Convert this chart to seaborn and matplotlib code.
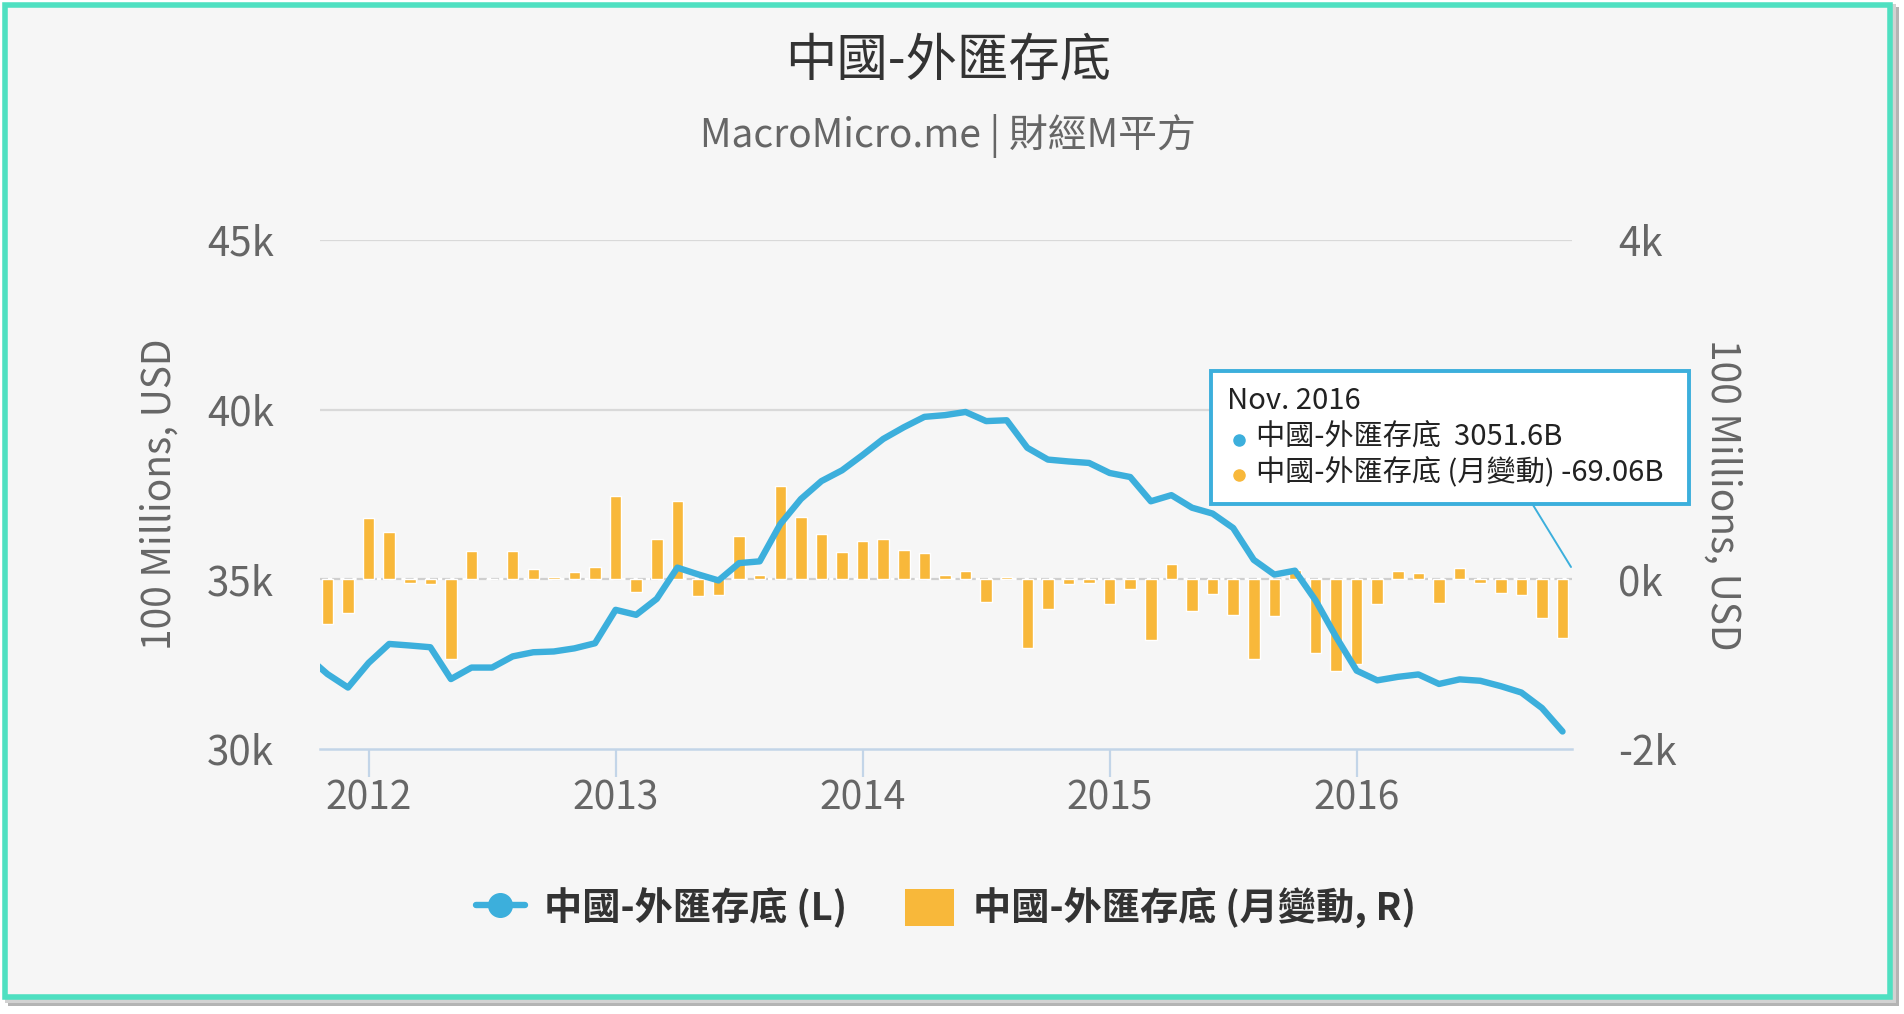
import numpy as np
import pandas as pd
import matplotlib
matplotlib.use("Agg")
import matplotlib.pyplot as plt
import seaborn as sns
from matplotlib.lines import Line2D
from matplotlib.patches import Patch, Rectangle
from matplotlib.font_manager import FontProperties

# ---------------- data ----------------
dates = pd.date_range("2011-10-01", "2016-11-01", freq="MS")
# China FX reserves, 100 millions USD (left axis)
reserves = [
    32738, 32209, 31811,
    32536, 33096, 33050, 32999, 32061, 32400, 32400, 32729, 32851, 32874, 32966, 33116,
    34101, 33954, 34426, 35345, 35148, 34967, 35478, 35530, 36627, 37366, 37895, 38213,
    38664, 39137, 39481, 39788, 39839, 39932, 39663, 39688, 38877, 38529, 38474, 38430,
    38134, 38015, 37300, 37481, 37111, 36938, 36513, 35574, 35141, 35255, 34383, 33304,
    32309, 32023, 32126, 32197, 31917, 32052, 32011, 31852, 31664, 31207, 30516,
]
# monthly change, 100 millions USD (right axis)
changes = [
    721, -529, -398,
    725, 560, -46, -51, -938, 339, 0, 329, 122, 23, 92, 150,
    985, -147, 472, 919, -197, -181, 511, 52, 1097, 739, 529, 318,
    451, 473, 344, 307, 51, 93, -269, 25, -811, -348, -55, -44,
    -296, -119, -715, 181, -370, -173, -425, -939, -433, 114, -872, -1079,
    -995, -286, 103, 71, -280, 135, -41, -159, -188, -457, -691,
]
year_ticks = [2012, 2013, 2014, 2015, 2016]
left_ticks = [30000, 35000, 40000, 45000]
left_labels = ["30k", "35k", "40k", "45k"]
right_ticks = [-2000, 0, 2000, 4000]
right_labels = ["-2k", "0k", "2k", "4k"]

title = "中國-外匯存底"
subtitle = "MacroMicro.me | 財經M平方"
axis_label = "100 Millions, USD"
series_line = "中國-外匯存底 (L)"
series_bar = "中國-外匯存底 (月變動, R)"
tip_date = "Nov. 2016"
tip_line1 = "中國-外匯存底  3051.6B"
tip_line2 = "中國-外匯存底 (月變動) -69.06B"

# months since Jan 2012 as numeric x position
month_idx = [(d.year - 2012) * 12 + (d.month - 1) for d in dates]
df = pd.DataFrame({"m": month_idx, "reserves": reserves, "change": changes})

# ---------------- style ----------------
sns.set_theme(style="white")
plt.rcParams["font.family"] = ["Noto Sans CJK TC", "DejaVu Sans"]

BLUE = "#3cafdc"
ORANGE = "#f8b83a"
GRID = "#d9d9d9"
LABEL = "#666666"
W, H = 1904, 1014

fig = plt.figure(figsize=(W / 100, H / 100), dpi=100, facecolor="white")

def px(x, y):
    """pixel (from top-left) -> figure fraction"""
    return x / W, 1 - y / H

# card background with shadow and teal border
fig.add_artist(Rectangle(px(8, 1006), 1891 / W, 999 / H, transform=fig.transFigure,
                         facecolor="#b4b4b4", edgecolor="none", zorder=-12))
fig.add_artist(Rectangle(px(5, 1003), 1891 / W, 999 / H, transform=fig.transFigure,
                         facecolor="#d2d2d2", edgecolor="none", zorder=-11))
fig.add_artist(Rectangle(px(4.7, 997), 1885.6 / W, 992.3 / H, transform=fig.transFigure,
                         facecolor="#f6f6f6", edgecolor="#4fe0c1", linewidth=4.0, zorder=-10))

ax = fig.add_axes([320 / W, 1 - 749 / H, 1252 / W, 509 / H])
ax2 = ax.twinx()

# bars on right axis
sns.barplot(data=df, x="m", y="change", native_scale=True, ax=ax2, color=ORANGE,
            saturation=1, width=0.56, edgecolor="white", linewidth=1.0, errorbar=None)
ax2.axhline(0, color="#cfcfcf", linewidth=1.6, linestyle=(0, (3.6, 1.9)),
            gapcolor="#ffffff", zorder=0.5)

# line on left axis
sns.lineplot(data=df, x="m", y="reserves", ax=ax, color=BLUE, linewidth=4.6, zorder=5)
for v in [40000, 45000]:
    ax.axhline(v, color=GRID, linewidth=1.6, zorder=0)

ax.set_zorder(2)
ax2.set_zorder(1)
ax.patch.set_visible(False)
ax2.patch.set_visible(False)

xlim = (-2.36, 58.46)
ax.set_xlim(*xlim)
ax2.set_xlim(*xlim)
ax.set_ylim(30000, 45000)
ax2.set_ylim(-2000, 4000)

ax.set_xticks([(y - 2012) * 12 for y in year_ticks])
ax.set_xticklabels([str(y) for y in year_ticks])
ax.set_yticks(left_ticks)
ax.set_yticklabels(left_labels)
ax2.set_yticks(right_ticks)
ax2.set_yticklabels(right_labels)

ax.tick_params(axis="x", length=20, width=1.6, color="#c3d5e8", pad=1,
               labelsize=28, labelcolor=LABEL, direction="out", bottom=True)
ax.tick_params(axis="y", length=0, pad=33, labelsize=29, labelcolor=LABEL)
ax2.tick_params(axis="y", length=0, pad=33, labelsize=29, labelcolor=LABEL)
ax2.tick_params(axis="x", bottom=False, labelbottom=False)

for s in ["top", "left", "right"]:
    ax.spines[s].set_visible(False)
for s in ax2.spines.values():
    s.set_visible(False)
ax.spines["bottom"].set_color("#c3d5e8")
ax.spines["bottom"].set_linewidth(1.8)
ax.grid(False)
ax2.grid(False)

ax.set_xlabel("")
ax.set_ylabel(axis_label, fontsize=28, color=LABEL, rotation=90, va="center")
ax.yaxis.set_label_coords(-0.128, 0.5)
ax2.set_ylabel(axis_label, fontsize=28, color=LABEL, rotation=-90, va="center")
ax2.yaxis.set_label_coords(1.12, 0.5)

# titles
fig.text(*px(948, 61), title, ha="center", va="center", fontsize=37, color="#333333")
fig.text(*px(948, 136), subtitle, ha="center", va="center", fontsize=28, color="#666666")

# legend
handles = [
    Line2D([], [], color=BLUE, linewidth=4.6, marker="o", markersize=17),
    Patch(facecolor=ORANGE, edgecolor="none"),
]
leg = fig.legend(handles, [series_line, series_bar], loc="center",
                 bbox_to_anchor=px(946, 908), ncol=2, frameon=False,
                 prop=FontProperties(family=["Noto Sans CJK TC", "DejaVu Sans"],
                                     weight="bold", size=27.5),
                 handlelength=1.3, handleheight=1.1, handletextpad=0.5,
                 columnspacing=1.5, labelcolor="#333333")

# tooltip
fig.add_artist(Line2D([1533 / W, 1571 / W], [1 - 505 / H, 1 - 567 / H],
                      transform=fig.transFigure, color=BLUE, linewidth=1.4, zorder=20))
fig.add_artist(Rectangle(px(1211, 504), 478 / W, 133 / H, transform=fig.transFigure,
                         facecolor="white", edgecolor=BLUE, linewidth=2.8, zorder=21))
fig.text(*px(1227, 401), tip_date, ha="left", va="center", fontsize=21,
         color="#222222", zorder=22)
fig.add_artist(Line2D([1239 / W], [1 - 440 / H], transform=fig.transFigure,
                      marker="o", markersize=8, color=BLUE, linestyle="none", zorder=22))
fig.text(*px(1256, 438), tip_line1, ha="left", va="center", fontsize=21,
         color="#222222", zorder=22)
fig.add_artist(Line2D([1239 / W], [1 - 475 / H], transform=fig.transFigure,
                      marker="o", markersize=8, color=ORANGE, linestyle="none", zorder=22))
fig.text(*px(1256, 473), tip_line2, ha="left", va="center", fontsize=21,
         color="#222222", zorder=22)

fig.savefig("out.png", dpi=100, facecolor="white")
